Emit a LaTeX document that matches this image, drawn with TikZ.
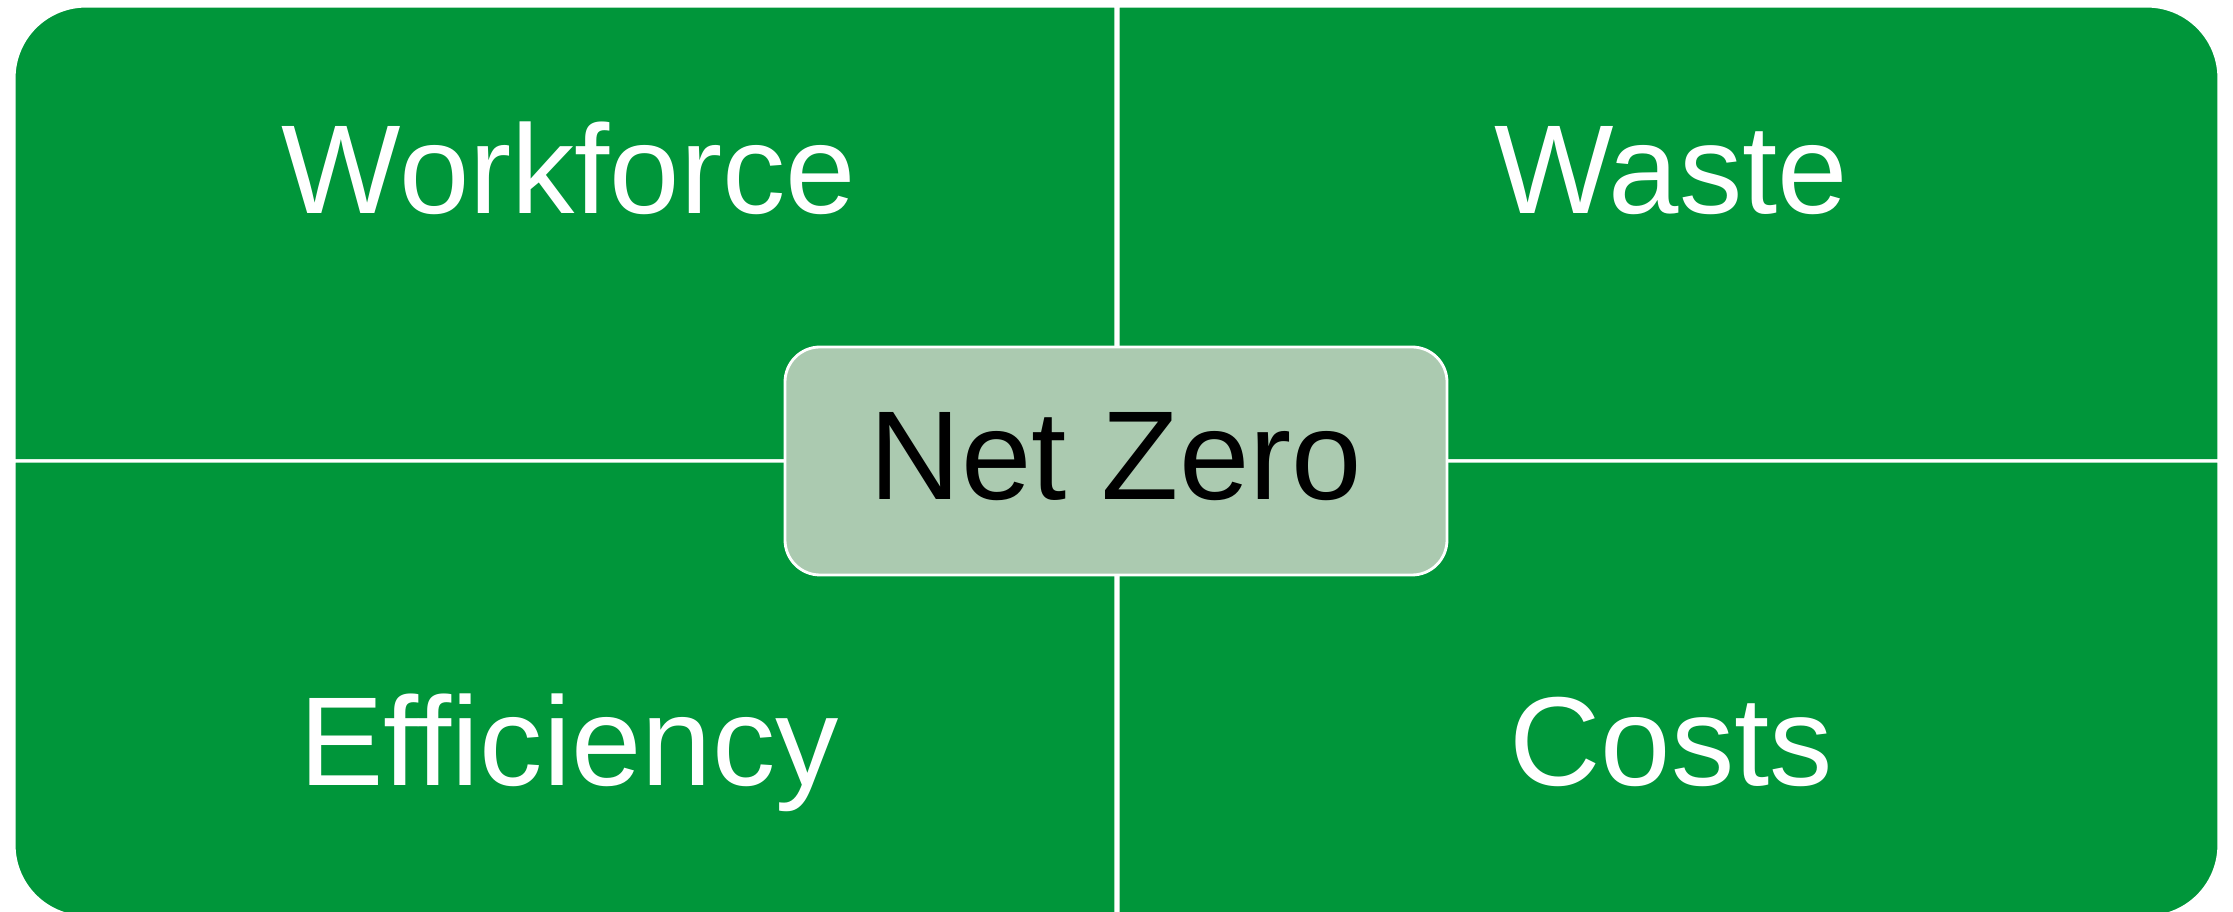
\documentclass[tikz,border=0pt]{standalone}
\usepackage{fontspec}
\setmainfont{Liberation Sans}
\usepackage{xcolor}
\usepackage{tikz}
\usetikzlibrary{positioning}

\definecolor{leafgreen}{RGB}{0,150,58}
\definecolor{sagegreen}{RGB}{171,202,176}

\begin{document}
\begin{tikzpicture}[
		quarter/.style={fill=leafgreen, draw=white, line width=0.9pt},
		label/.style={anchor=base, text=white, font=\fontsize{36}{42}\selectfont},
		hub/.style={fill=sagegreen, draw=white, line width=0.8pt, rounded corners=3.5mm,
			minimum width=6.62cm, minimum height=2.28cm, inner sep=0pt}
	]
			\useasboundingbox (0,0) rectangle (22.33,9.12);
			\clip (0,0) rectangle (22.33,9.12);
			% four quarters, each with one round outer corner
			\draw[quarter] (0.14,4.51) -- (0.14,8.34) arc[start angle=180, end angle=90, radius=0.72]
				-- (11.16,9.06) -- (11.16,4.51) -- cycle;
			\draw[quarter] (11.18,4.51) -- (11.18,9.06) -- (21.47,9.06) arc[start angle=90, end angle=0, radius=0.72]
				-- (22.19,4.51) -- cycle;
			\draw[quarter] (11.16,4.51) -- (0.14,4.51) -- (0.14,0.67) arc[start angle=180, end angle=270, radius=0.72]
				-- (11.16,-0.05) -- cycle;
			\draw[quarter] (11.18,4.51) -- (22.19,4.51) -- (22.19,0.67) arc[start angle=0, end angle=-90, radius=0.72]
				-- (11.18,-0.05) -- cycle;

			\node(workforce)[label] at (5.69,6.98) {Workforce};
			\node(waste)[label] at (16.71,6.98) {Waste};
			\node(efficiency)[label] at (5.69,1.26) {Efficiency};
			\node(costs)[label] at (16.71,1.26) {Costs};

			\node(netzero)[hub] at (11.16,4.51) {};
			\node(netzerotext)[anchor=base, font=\fontsize{36}{42}\selectfont] at (netzero.center |- 0,4.12) {Net Zero};
		\end{tikzpicture}
\end{document}
